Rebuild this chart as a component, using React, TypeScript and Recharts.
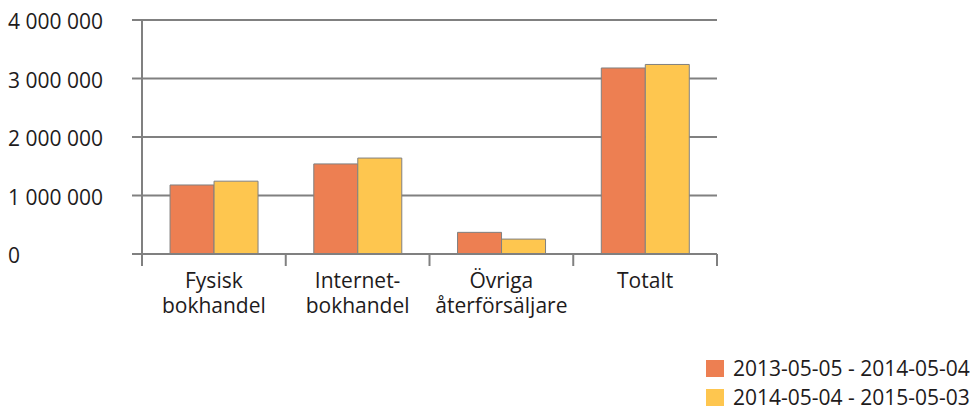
import { BarChart, Bar, XAxis, YAxis, CartesianGrid, Legend } from 'recharts';

const categories = ['Fysisk bokhandel', 'Internetbokhandel', 'Övriga återförsäljare', 'Totalt'];
const categoryLines = [['Fysisk', 'bokhandel'], ['Internet-', 'bokhandel'], ['Övriga', 'återförsäljare'], ['Totalt']];
const period1 = [1180000, 1540000, 370000, 3180000];
const period2 = [1245000, 1640000, 255000, 3240000];
const seriesNames = ['2013-05-05 - 2014-05-04', '2014-05-04 - 2015-05-03'];
const yTicks = [0, 1000000, 2000000, 3000000, 4000000];

const data = categories.map((name, i) => ({ name, p1: period1[i], p2: period2[i] }));

const W = 979;
const H = 410;
const margin = { top: 20, right: 262, left: 0, bottom: 0 };
const yAxisW = 142;
const band = (W - margin.left - margin.right - yAxisW) / categories.length;

const GRID = '#808080';
const TEXT = '#1e1b1c';
const ORANGE = '#ed7f52';
const YELLOW = '#fec64f';

const fmt = (v: number) => String(v).replace(/\B(?=(\d{3})+(?!\d))/g, '\u00a0');

function YTick({ y, payload }: any) {
  return (
    <text x={8} y={y + 9} textAnchor="start" fill={TEXT} fontSize={21}>
      {fmt(payload.value)}
    </text>
  );
}

function XTick({ x, y, index }: any) {
  const lines = categoryLines[index] || [];
  return (
    <g>
      {index === 0 && <line x1={x - band / 2} x2={x - band / 2} y1={y} y2={y + 12} stroke={GRID} strokeWidth={2} />}
      <line x1={x + band / 2} x2={x + band / 2} y1={y} y2={y + 12} stroke={GRID} strokeWidth={2} />
      <text textAnchor="middle" fill={TEXT} fontSize={21}>
        {lines.map((l, i) => (
          <tspan key={i} x={x} y={y + 34 + i * 25}>{l}</tspan>
        ))}
      </text>
    </g>
  );
}

function LegendBox() {
  const colors = [ORANGE, YELLOW];
  return (
    <div>
      {seriesNames.map((s, i) => (
        <div key={s} style={{ display: 'flex', alignItems: 'center', height: 29 }}>
          <span style={{ width: 18, height: 17, background: colors[i], display: 'inline-block', marginRight: 9 }} />
          <span style={{ fontSize: 21, color: TEXT, lineHeight: '29px' }}>{s}</span>
        </div>
      ))}
    </div>
  );
}

export default function App() {
  return (
    <div style={{ position: 'absolute', left: 0, top: 0, width: W, height: H, background: '#fff', fontFamily: '"Open Sans", sans-serif' }}>
      <BarChart width={W} height={H} data={data} margin={margin} barCategoryGap="19.5%" barGap={0}>
        <CartesianGrid vertical={false} stroke={GRID} strokeWidth={2} />
        <XAxis dataKey="name" height={156} interval={0} axisLine={{ stroke: GRID, strokeWidth: 2 }} tickLine={false} tickSize={0} tickMargin={0} tick={<XTick />} />
        <YAxis width={yAxisW} domain={[0, 4000000]} ticks={yTicks} interval={0} axisLine={{ stroke: GRID, strokeWidth: 2 }} tickLine={{ stroke: GRID, strokeWidth: 2 }} tickSize={10} tick={<YTick />} />
        <Legend layout="vertical" align="center" verticalAlign="middle" content={<LegendBox />} wrapperStyle={{ left: 706, top: 354, width: 'auto', height: 'auto' }} />
        <Bar dataKey="p1" name={seriesNames[0]} fill={ORANGE} stroke={GRID} strokeWidth={1} isAnimationActive={false} />
        <Bar dataKey="p2" name={seriesNames[1]} fill={YELLOW} stroke={GRID} strokeWidth={1} isAnimationActive={false} />
      </BarChart>
    </div>
  );
}
